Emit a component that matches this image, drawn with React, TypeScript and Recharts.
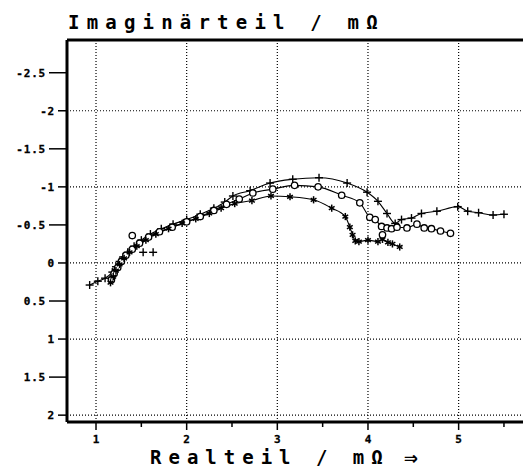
import { ComposedChart, Line, Scatter, XAxis, YAxis, ReferenceLine } from "recharts";

const X_MIN = 0.68;
const X_MAX = 5.71;
const Y_TOP = -2.93;
const Y_BOTTOM = 2.09;

const xTicks = [1, 1.5, 2, 2.5, 3, 3.5, 4, 4.5, 5, 5.5];
const yTicks = [-2.5, -2, -1.5, -1, -0.5, 0, 0.5, 1, 1.5, 2];
const gridX = [1, 2, 3, 4, 5];
const gridY = [-2, -1, 0, 1, 2];

// "+" measurements
const plusX = [0.93, 1.02, 1.1, 1.18, 1.22, 1.26, 1.3, 1.35, 1.42, 1.5, 1.6, 1.72, 1.85, 2.0, 2.15, 2.3, 2.42, 2.51, 2.7, 2.92, 3.17, 3.46, 3.77, 3.99, 4.11, 4.21, 4.3, 4.37, 4.48, 4.59, 4.76, 4.99, 5.1, 5.22, 5.38, 5.5];
const plusY = [0.29, 0.24, 0.2, 0.12, 0.05, -0.02, -0.08, -0.14, -0.22, -0.3, -0.38, -0.45, -0.51, -0.57, -0.64, -0.72, -0.8, -0.88, -0.95, -1.05, -1.1, -1.12, -1.05, -0.93, -0.81, -0.65, -0.52, -0.57, -0.59, -0.65, -0.68, -0.74, -0.68, -0.66, -0.63, -0.64];

// "o" measurements
const circleX = [1.17, 1.2, 1.24, 1.28, 1.33, 1.4, 1.48, 1.58, 1.7, 1.84, 2.0, 2.15, 2.3, 2.44, 2.58, 2.73, 2.95, 3.19, 3.45, 3.71, 3.91, 4.02, 4.08, 4.15, 4.21, 4.26, 4.32, 4.43, 4.54, 4.62, 4.7, 4.8, 4.91];
const circleY = [0.22, 0.14, 0.06, -0.02, -0.1, -0.18, -0.26, -0.34, -0.41, -0.47, -0.54, -0.61, -0.69, -0.77, -0.84, -0.92, -0.97, -1.02, -1.0, -0.89, -0.79, -0.6, -0.57, -0.48, -0.46, -0.45, -0.47, -0.46, -0.51, -0.46, -0.45, -0.42, -0.39];

// "*" measurements
const starX = [1.16, 1.19, 1.22, 1.26, 1.31, 1.37, 1.45, 1.55, 1.66, 1.8, 1.95, 2.1, 2.25, 2.38, 2.53, 2.72, 2.93, 3.14, 3.4, 3.6, 3.75, 3.8, 3.83, 3.86, 3.9, 4.0, 4.11, 4.16, 4.22, 4.27, 4.35];
const starY = [0.26, 0.18, 0.1, 0.02, -0.06, -0.14, -0.22, -0.3, -0.38, -0.45, -0.52, -0.58, -0.65, -0.72, -0.78, -0.82, -0.88, -0.87, -0.83, -0.72, -0.61, -0.47, -0.37, -0.29, -0.28, -0.3, -0.28, -0.31, -0.27, -0.25, -0.21];

// stray points not on the curves
const plusOutX = [1.52, 1.63];
const plusOutY = [-0.14, -0.14];
const circleOutX = [1.4, 4.16];
const circleOutY = [-0.36, -0.37];

const pts = (xs: number[], ys: number[]) => xs.map((x, i) => ({ x, y: ys[i] }));

const FONT = "'DejaVu Sans Mono', monospace";

function PlusMark({ cx, cy }: any) {
  if (cx == null || cy == null) return null;
  return (
    <g>
      <line x1={cx - 4} x2={cx + 4} y1={cy} y2={cy} stroke="#000" strokeWidth={1.4} />
      <line x1={cx} x2={cx} y1={cy - 4} y2={cy + 4} stroke="#000" strokeWidth={1.4} />
    </g>
  );
}

function CircleMark({ cx, cy }: any) {
  if (cx == null || cy == null) return null;
  return <circle cx={cx} cy={cy} r={3.2} fill="#fff" stroke="#000" strokeWidth={1.3} />;
}

function StarMark({ cx, cy }: any) {
  if (cx == null || cy == null) return null;
  const r = 3.6;
  const d = r * 0.8;
  return (
    <g stroke="#000" strokeWidth={1.5}>
      <line x1={cx} x2={cx} y1={cy - r} y2={cy + r} />
      <line x1={cx - d} x2={cx + d} y1={cy - d * 0.6} y2={cy + d * 0.6} />
      <line x1={cx - d} x2={cx + d} y1={cy + d * 0.6} y2={cy - d * 0.6} />
    </g>
  );
}

function YTick({ x, y, payload }: any) {
  const v = payload.value;
  const len = Number.isInteger(v) ? 9 : 18;
  return (
    <g>
      <line x1={x - len} x2={x} y1={y} y2={y} stroke="#000" strokeWidth={1.5} />
      <text x={x - len - 3} y={y} dy={4} textAnchor="end" fontFamily={FONT} fontWeight={700} fontSize={11} letterSpacing={0.8} fill="#000" stroke="#000" strokeWidth={0.3}>
        {String(v)}
      </text>
    </g>
  );
}

function XTick({ x, y, payload }: any) {
  const v = payload.value;
  const major = Number.isInteger(v);
  return (
    <g>
      <line x1={x} x2={x} y1={y} y2={y + (major ? 8 : 5)} stroke="#000" strokeWidth={1.5} />
      {major && (
        <text x={x} y={y + 21} textAnchor="middle" fontFamily={FONT} fontWeight={700} fontSize={11} fill="#000" stroke="#000" strokeWidth={0.3}>
          {String(v)}
        </text>
      )}
    </g>
  );
}

export default function App() {
  return (
    <div style={{ position: "absolute", left: 0, top: 0, width: 523, height: 469, background: "#fff", overflow: "hidden" }}>
      <ComposedChart width={523} height={469} margin={{ top: 40, right: 0, bottom: 0, left: 0 }}>
        <XAxis
          type="number"
          dataKey="x"
          domain={[X_MIN, X_MAX]}
          ticks={xTicks}
          allowDataOverflow
          height={47}
          tickSize={0}
          tickMargin={0}
          tickLine={false}
          tick={<XTick />}
          interval={0}
          axisLine={{ stroke: "#000", strokeWidth: 3 }}
        />
        <YAxis
          type="number"
          dataKey="y"
          domain={[Y_TOP, Y_BOTTOM]}
          reversed
          ticks={yTicks}
          allowDataOverflow
          width={67}
          tickSize={0}
          tickMargin={0}
          tickLine={false}
          tick={<YTick />}
          interval={0}
          axisLine={{ stroke: "#000", strokeWidth: 3 }}
        />
        {gridX.map((v) => (
          <ReferenceLine key={`gx${v}`} x={v} stroke="#000" strokeWidth={1.2} strokeDasharray="1 2" />
        ))}
        {gridY.map((v) => (
          <ReferenceLine key={`gy${v}`} y={v} stroke="#000" strokeWidth={1.2} strokeDasharray="1 2" />
        ))}
        <ReferenceLine y={Y_TOP} stroke="#000" strokeWidth={3} />
        <Line
          data={pts(plusX, plusY)}
          dataKey="y"
          type="monotone"
          stroke="#000"
          strokeWidth={1.1}
          isAnimationActive={false}
          dot={(p: any) => <PlusMark key={`p${p.index}`} cx={p.cx} cy={p.cy} />}
          activeDot={false}
        />
        <Line
          data={pts(circleX, circleY)}
          dataKey="y"
          type="monotone"
          stroke="#000"
          strokeWidth={1.1}
          isAnimationActive={false}
          dot={(p: any) => <CircleMark key={`c${p.index}`} cx={p.cx} cy={p.cy} />}
          activeDot={false}
        />
        <Line
          data={pts(starX, starY)}
          dataKey="y"
          type="monotone"
          stroke="#000"
          strokeWidth={1.1}
          isAnimationActive={false}
          dot={(p: any) => <StarMark key={`s${p.index}`} cx={p.cx} cy={p.cy} />}
          activeDot={false}
        />
        <Scatter data={pts(plusOutX, plusOutY)} dataKey="y" isAnimationActive={false} shape={(p: any) => <PlusMark cx={p.cx} cy={p.cy} />} />
        <Scatter data={pts(circleOutX, circleOutY)} dataKey="y" isAnimationActive={false} shape={(p: any) => <CircleMark cx={p.cx} cy={p.cy} />} />
      </ComposedChart>
      <div style={{ position: "absolute", left: 68, top: 13, fontFamily: FONT, fontWeight: 700, fontSize: 19, lineHeight: "18px", letterSpacing: 7.2, color: "#000", whiteSpace: "nowrap" }}>
        Imaginärteil / mΩ
      </div>
      <div style={{ position: "absolute", left: 150, top: 449, fontFamily: FONT, fontWeight: 700, fontSize: 19, lineHeight: "16px", letterSpacing: 7, color: "#000", whiteSpace: "nowrap" }}>
        Realteil / mΩ
      </div>
      <div style={{ position: "absolute", left: 404, top: 446, fontFamily: FONT, fontWeight: 700, fontSize: 23, lineHeight: "23px", color: "#000", whiteSpace: "nowrap" }}>
        ⇒
      </div>
    </div>
  );
}
